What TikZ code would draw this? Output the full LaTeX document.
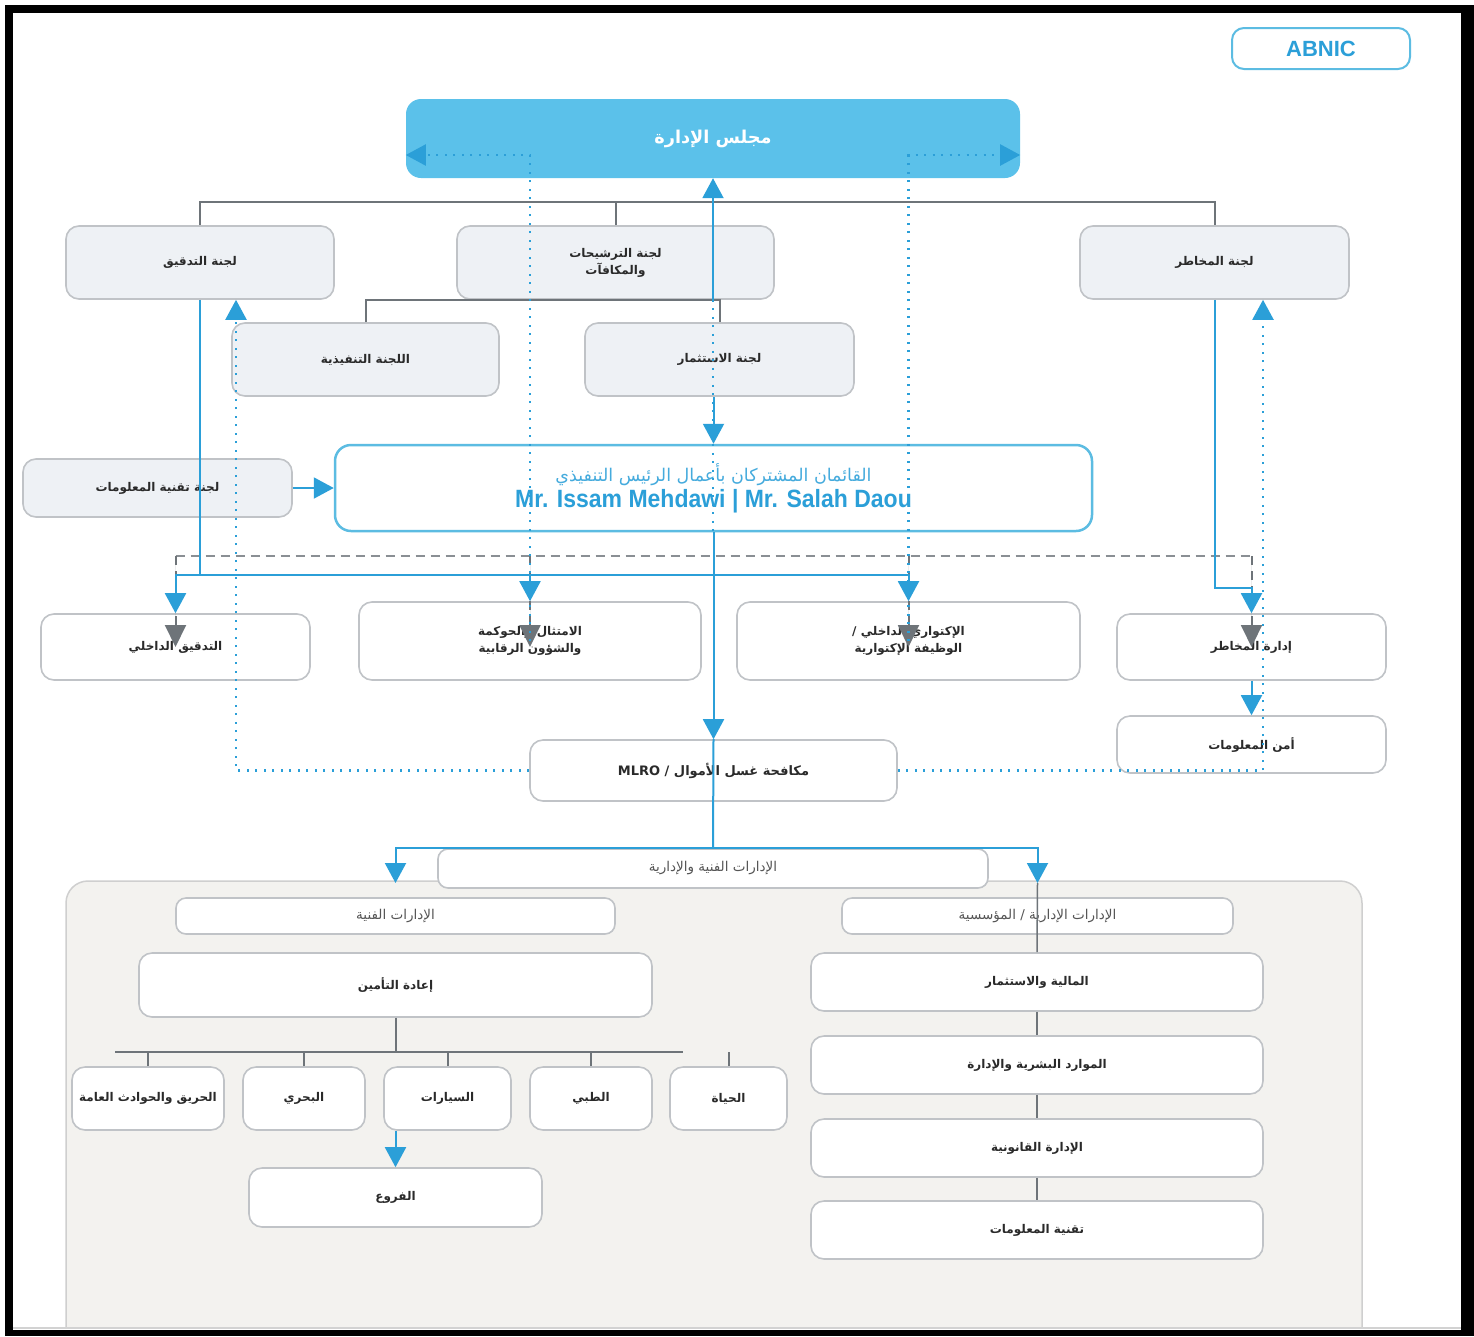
\documentclass[tikz,border=0pt]{standalone}
\usepackage{fontspec}
\usepackage{graphicx}
\setmainfont{Liberation Sans}
\newfontfamily\arfont[Script=Arabic]{DejaVu Sans}
\TeXXeTstate=1
\usetikzlibrary{arrows.meta,calc}
\definecolor{bl}{HTML}{2B9FD8}
\definecolor{boardfill}{HTML}{5BC1EA}
\definecolor{ceoline}{HTML}{5CBCE2}
\definecolor{ceotxt}{HTML}{45ABDD}
\definecolor{commfill}{HTML}{EEF1F5}
\definecolor{cline}{HTML}{C0C3C7}
\definecolor{grayln}{HTML}{6E7479}
\definecolor{dashgray}{HTML}{8A8F94}
\definecolor{contfill}{HTML}{F3F2EF}
\definecolor{contline}{HTML}{CFCFCF}
\definecolor{txt}{HTML}{2A2A2A}
\definecolor{txtgray}{HTML}{555555}
\newcommand\arR[1]{\beginR#1\endR}
\begin{document}
\begin{tikzpicture}[x=1pt,y=-1pt,
  comm/.style={draw=cline, fill=commfill, line width=1.6pt, rounded corners=13pt, inner sep=0pt,
    font=\arfont\bfseries\fontsize{12}{17}\selectfont, text=txt, align=center},
  wbox/.style={comm, fill=white},
  hbox/.style={wbox, rounded corners=10pt, font=\arfont\fontsize{13.5}{16}\selectfont, text=txtgray},
  bline/.style={draw=bl, line width=2pt},
  barrow/.style={bline, -{Triangle[length=20pt,width=21pt]}},
  bdot/.style={draw=bl, line width=2.2pt, dash pattern=on 2pt off 6.5pt},
  bdotarrow/.style={bdot, -{Triangle[length=20pt,width=21pt]}},
  gline/.style={draw=grayln, line width=2pt},
  gdash/.style={draw=dashgray, line width=2pt, dash pattern=on 9pt off 6pt},
  gdarrow/.style={gdash, -{Triangle[length=22pt,width=21pt]}, draw=grayln, fill=grayln}
]
\useasboundingbox (0,0) rectangle (1474,1336);
% frame
\fill[black] (5,5) rectangle (1474,1336);
\fill[white] (13,13) rectangle (1461,1330);
% container
\begin{scope}
\clip (13,13) rectangle (1461,1327);
\draw[rounded corners=22pt, fill=contfill, draw=contline, line width=1.5pt] (66,881) rectangle (1362,1380);
\end{scope}
\draw[gray!35, line width=2pt] (13,1328) -- (1461,1328);

% nodes
\node[draw=ceoline, line width=2pt, rounded corners=12pt, minimum width=178, minimum height=41, inner sep=0pt,
  text=bl, font=\bfseries\fontsize{22}{22}\selectfont] (abnic) at (1321,48.5) {ABNIC};
\node[fill=boardfill, rounded corners=15pt, minimum width=614, minimum height=79, inner sep=0pt,
  text=white, font=\arfont\bfseries\fontsize{17.7}{20}\selectfont] (board) at (713,138.5) {\raisebox{3pt}{\arR{مجلس الإدارة}}};

\node[comm, minimum width=268, minimum height=73] (auditc) at (200,262.5) {\arR{لجنة التدقيق}};
\node[comm, minimum width=317, minimum height=73] (nomc) at (615.5,262.5) {\arR{لجنة الترشيحات}\\\arR{والمكافآت}};
\node[comm, minimum width=269, minimum height=73] (riskc) at (1214.5,262.5) {\arR{لجنة المخاطر}};
\node[comm, minimum width=267, minimum height=73] (execc) at (365.5,359.5) {\arR{اللجنة التنفيذية}};
\node[comm, minimum width=269, minimum height=73] (invc) at (719.5,359.5) {\arR{لجنة الاستثمار}};
\node[comm, minimum width=269, minimum height=58] (itc) at (157.5,488) {\arR{لجنة تقنية المعلومات}};

\node[draw=ceoline, fill=white, line width=2.5pt, rounded corners=16pt, minimum width=757, minimum height=86,
  inner sep=0pt, align=center] (ceo) at (713.5,488)
  {{\arfont\fontsize{17.5}{18}\selectfont\color{ceotxt}\arR{القائمان المشتركان بأعمال الرئيس التنفيذي}}\\[3pt]
   {\bfseries\fontsize{25}{25}\selectfont\color{bl}\scalebox{0.92}[1]{Mr. Issam Mehdawi | Mr. Salah Daou}}};

\node[wbox, minimum width=269, minimum height=66] (ia) at (175.5,647) {\arR{التدقيق الداخلي}};
\node[wbox, minimum width=342, minimum height=78] (comp) at (530,641) {\arR{الامتثال والحوكمة}\\\arR{والشؤون الرقابية}};
\node[wbox, minimum width=343, minimum height=78] (act) at (908.5,641) {\arR{الإكتواري الداخلي /}\\\arR{الوظيفة الإكتوارية}};
\node[wbox, minimum width=269, minimum height=66] (rm) at (1251.5,647) {\arR{إدارة المخاطر}};
\node[wbox, minimum width=269, minimum height=57] (isec) at (1251.5,744.5) {\arR{أمن المعلومات}};
\node[wbox, minimum width=367, minimum height=61, font=\arfont\bfseries\fontsize{13}{16}\selectfont] (mlro) at (713.5,770.5) {\arR{مكافحة غسل الأموال / \beginL MLRO\endL}};

\node[hbox, minimum width=550, minimum height=39] (hdr) at (713,868.5) {\arR{الإدارات الفنية والإدارية}};
\node[hbox, minimum width=439, minimum height=36] (tech) at (395.5,916) {\arR{الإدارات الفنية}};
\node[hbox, minimum width=391, minimum height=36] (adm) at (1037.5,916) {\arR{الإدارات الإدارية / المؤسسية}};

\node[wbox, minimum width=513, minimum height=64] (reins) at (395.5,985) {\arR{إعادة التأمين}};
\node[wbox, minimum width=152, minimum height=63] (fire) at (148,1098.5) {\arR{الحريق والحوادث العامة}};
\node[wbox, minimum width=122, minimum height=63] (marine) at (304,1098.5) {\arR{البحري}};
\node[wbox, minimum width=127, minimum height=63] (motor) at (447.5,1098.5) {\arR{السيارات}};
\node[wbox, minimum width=122, minimum height=63] (med) at (591,1098.5) {\arR{الطبي}};
\node[wbox, minimum width=117, minimum height=63] (life) at (728.5,1098.5) {\arR{الحياة}};
\node[wbox, minimum width=293, minimum height=59] (branches) at (395.5,1197.5) {\arR{الفروع}};

\node[wbox, minimum width=452, minimum height=58] (fin) at (1037,982) {\arR{المالية والاستثمار}};
\node[wbox, minimum width=452, minimum height=58] (hr) at (1037,1065) {\arR{الموارد البشرية والإدارة}};
\node[wbox, minimum width=452, minimum height=58] (legal) at (1037,1148) {\arR{الإدارة القانونية}};
\node[wbox, minimum width=452, minimum height=58] (itd) at (1037,1230) {\arR{تقنية المعلومات}};

% gray org lines
\coordinate (bus1) at (713,202);
\draw[gline] (auditc.north) |- (bus1) -| (riskc.north);
\draw[gline] (nomc.north) -- (nomc.north |- bus1);
\draw[gline] (execc.north) |- (invc.north |- nomc.south) -- (invc.north);
\coordinate (tL) at (115,1052);
\coordinate (tR) at (683,1052);
\draw[gline] (reins.south) -- (reins.south |- tL);
\draw[gline] (tL) -- (tR);
\foreach \n in {fire,marine,motor,med,life} \draw[gline] (\n.north) -- (\n.north |- tL);
\draw[gline] (fin.south) -- (hr.north);
\draw[gline] (hr.south) -- (legal.north);
\draw[gline] (legal.south) -- (itd.north);

% dashed gray
\coordinate (dg) at (713,556);
\draw[gdash] (ia.center |- dg) -- (rm.center |- dg);
\draw[gdarrow] (ia.center |- dg) -- (ia.center);
\draw[gdarrow] (comp.center |- dg) -- (comp.center |- ia.center);
\draw[gdarrow] (act.center |- dg) -- (act.center |- ia.center);
\draw[gdarrow] (rm.center |- dg) -- (rm.center);

% dotted blue
\coordinate (dl) at (713,155);
\draw[bdotarrow] (comp.center) -- (comp.center |- dl) -- (board.west |- dl);
\draw[bdotarrow] (act.center) -- (act.center |- dl) -- (board.east |- dl);
\draw[bdot] (board.south |- nomc.south) -- (board.south |- ceo.south);
\draw[bdotarrow] (mlro.west) -| ($(auditc.south)+(36,0)$);
\draw[bdotarrow] (mlro.east) -| ($(riskc.south)+(48.5,0)$);

% solid blue
\draw[barrow] (board.south |- nomc.south) -- (board.south);
\draw[barrow] (ceo.north |- invc.south) -- (ceo.north);
\draw[barrow] (itc.east) -- (ceo.west);
\coordinate (hb) at (200,575);
\draw[bline] (auditc.south) -- (auditc.south |- hb);
\draw[barrow] (auditc.south |- hb) -| (ia.north);
\draw[barrow] (auditc.south |- hb) -| (comp.north);
\draw[barrow] (auditc.south |- hb) -| (act.north);
\coordinate (rk) at (1251.5,588);
\draw[barrow] (riskc.south) |- (rk) -- (rm.north);
\draw[barrow] (rm.south) -- (isec.north);
\draw[barrow] (ceo.south) -- (mlro.north);
\draw[bline] (mlro.north) -- (hdr.north);
\coordinate (ctop) at (713,883);
\draw[barrow] (hdr.north) -| (tech.north |- ctop);
\draw[barrow] (hdr.north) -| (adm.north |- ctop);
\draw[draw=grayln, line width=1.5pt] (adm.north |- ctop) -- (fin.north);
\draw[barrow] (branches.north |- motor.south) -- (branches.north);
\end{tikzpicture}
\end{document}
